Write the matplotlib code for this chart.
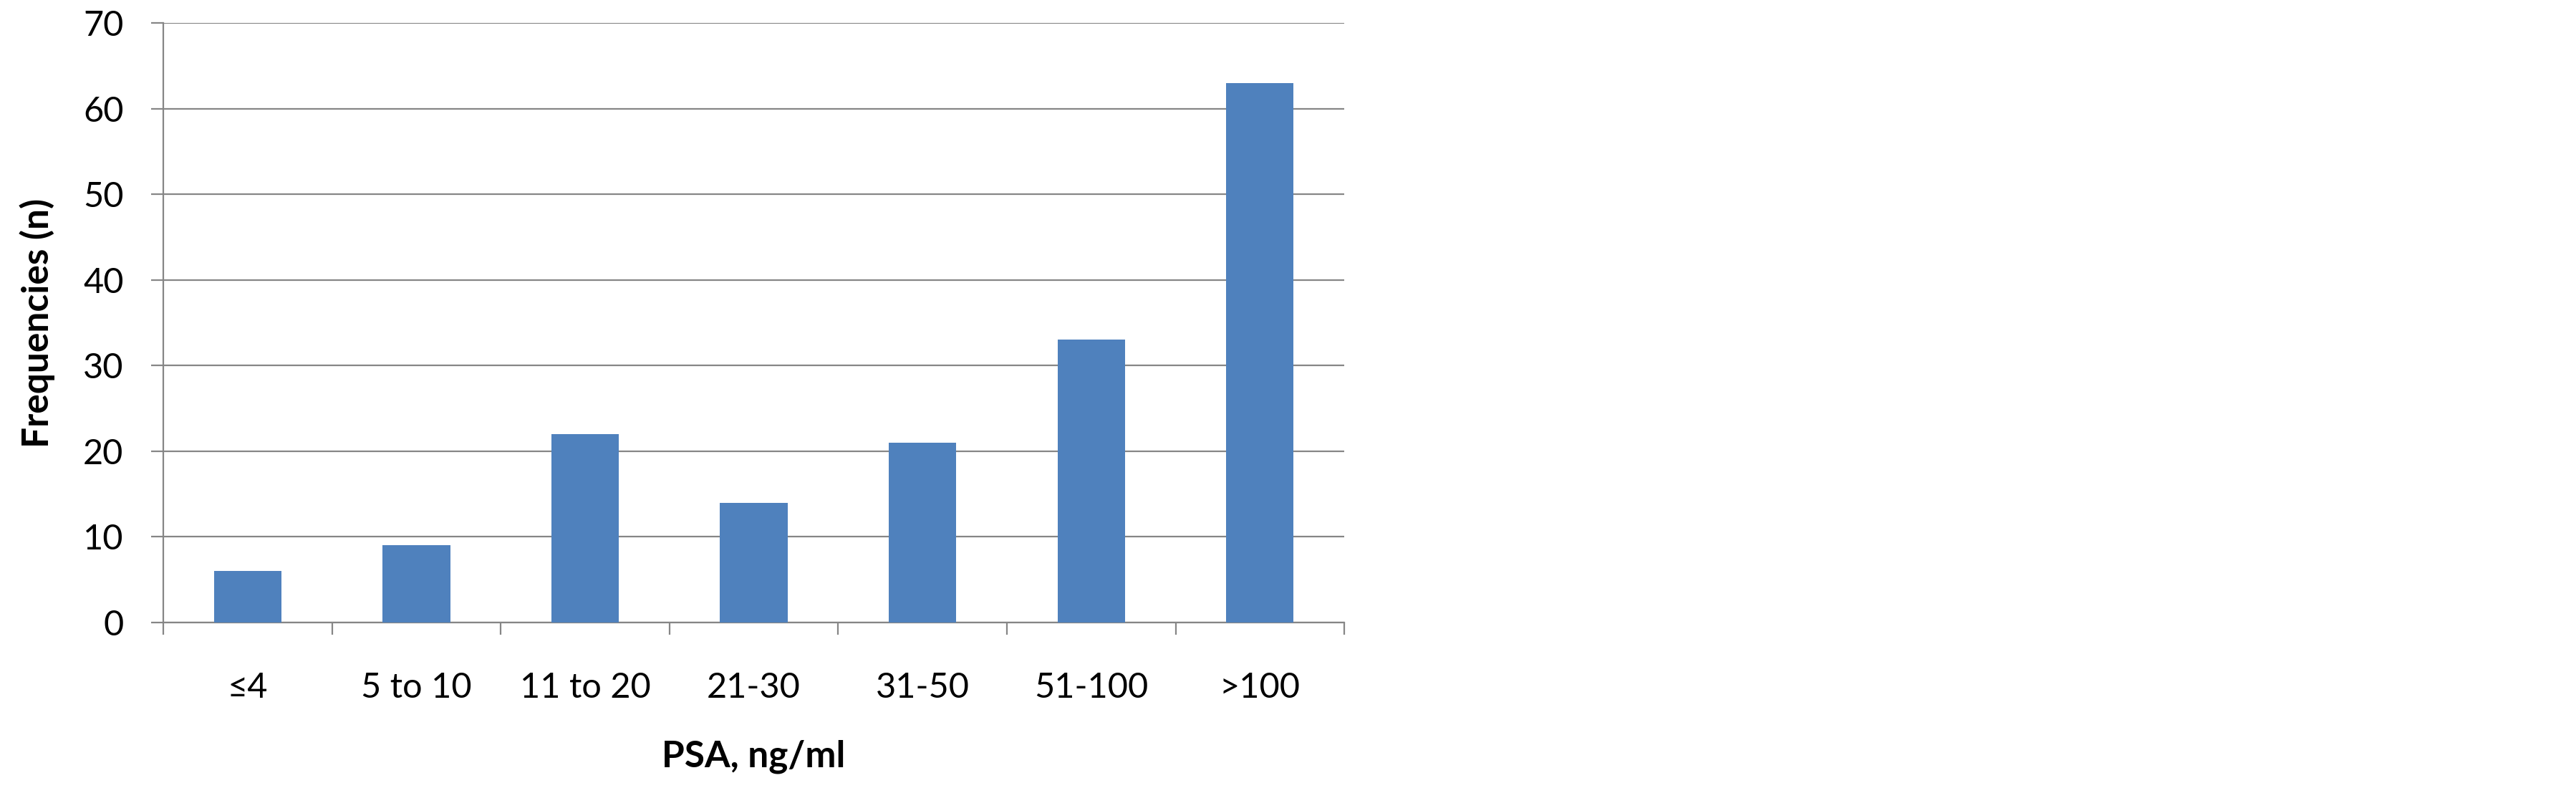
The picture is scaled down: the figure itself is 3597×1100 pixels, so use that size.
import matplotlib
matplotlib.use("Agg")
import matplotlib.pyplot as plt
import numpy as np

categories = ["\u22644", "5 to 10", "11 to 20", "21-30", "31-50", "51-100", ">100"]
frequencies = [6, 9, 22, 14, 21, 33, 63]
yticks = [0, 10, 20, 30, 40, 50, 60, 70]

plt.rcParams['font.family'] = ['Lato', 'DejaVu Sans']
grey = '#868686'
blue = '#4f81bd'

fig = plt.figure(figsize=(35.98, 11.0), dpi=100)
ax = fig.add_axes([0.0634, 0.21, 0.4583, 0.7609])

x = np.arange(len(categories))
ax.bar(x, frequencies, width=0.4, color=blue, zorder=3)

ax.set_xlim(-0.5, len(categories) - 0.5)
ax.set_ylim(0, 70)
ax.set_yticks(yticks)
ax.yaxis.grid(True, color=grey, linewidth=1.6, zorder=0)

ax.set_xticks(x)
ax.set_xticklabels(categories)
ax.set_xticks(np.arange(len(categories) + 1) - 0.5, minor=True)
ax.tick_params(axis='x', which='major', length=0, pad=50, labelsize=35)
ax.tick_params(axis='x', which='minor', length=12, width=1.6, color=grey)
ax.tick_params(axis='y', length=12, width=1.6, color=grey, labelsize=35, pad=28)

for side in ['top', 'right']:
    ax.spines[side].set_visible(False)
for side in ['left', 'bottom']:
    ax.spines[side].set_color(grey)
    ax.spines[side].set_linewidth(1.6)

ax.set_ylabel("Frequencies (n)", fontsize=37, fontweight='bold', labelpad=28)
ax.set_xlabel("PSA, ng/ml", fontsize=37, fontweight='bold', labelpad=36)

fig.savefig("out.png", dpi=100, facecolor='white')
